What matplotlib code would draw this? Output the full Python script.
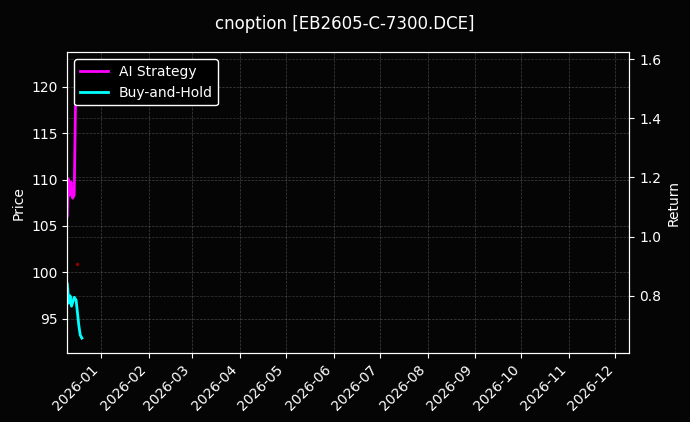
import matplotlib
matplotlib.use("Agg")
import matplotlib.pyplot as plt
import matplotlib.dates as mdates
import numpy as np
import pandas as pd

plt.style.use("dark_background")

## Data
title = "cnoption [EB2605-C-7300.DCE]"

ai_times = pd.to_datetime([
    "2025-12-10 00:00", "2025-12-10 16:00", "2025-12-11 15:00", "2025-12-12 10:00",
    "2025-12-13 12:00", "2025-12-14 12:00", "2025-12-15 12:00", "2025-12-16 06:00",
    "2025-12-17 12:00", "2025-12-19 00:00",
])
ai_return = [1.07, 1.195, 1.14, 1.185, 1.13, 1.14, 1.50, 1.58, 1.55, 1.57]

bh_times = pd.to_datetime([
    "2025-12-10 00:00", "2025-12-10 10:00", "2025-12-11 00:00", "2025-12-11 20:00",
    "2025-12-12 18:00", "2025-12-14 12:00", "2025-12-15 18:00", "2025-12-17 12:00",
    "2025-12-18 10:00", "2025-12-19 12:00",
])
bh_return = [0.84, 0.815, 0.775, 0.80, 0.765, 0.795, 0.785, 0.70, 0.667, 0.657]

price_times = pd.to_datetime(["2025-12-16 06:00"])
price_values = [100.9]

x_start = pd.Timestamp("2025-12-10")
x_end = pd.Timestamp("2026-12-10")

fig = plt.figure(figsize=(6.9, 4.22), dpi=100, facecolor="#050505")
ax1 = fig.add_axes([0.0975, 0.164, 0.8145, 0.7116])
ax1.set_facecolor("#050505")
ax2 = ax1.twinx()

ax1.plot(price_times, price_values, color="#8b0000", marker="o", markersize=1.5, linewidth=1)
ax1.set_ylim(91.34, 123.69)
ax1.set_ylabel("Price", fontsize=10)
ax1.grid(True, linestyle="--", linewidth=0.5, color="gray", alpha=0.5)

ax2.plot(ai_times, ai_return, color="#ff00ff", linewidth=2, label="AI Strategy")
ax2.plot(bh_times, bh_return, color="#00ffff", linewidth=2, label="Buy-and-Hold")
ax2.set_ylim(0.6074, 1.622)
ax2.set_ylabel("Return", fontsize=10)
ax2.grid(True, linestyle="--", linewidth=0.5, color="gray", alpha=0.4)

ax1.set_xlim(x_start, x_end)
ax1.xaxis.set_major_locator(mdates.MonthLocator())
ax1.xaxis.set_major_formatter(mdates.DateFormatter("%Y-%m"))
plt.setp(ax1.get_xticklabels(), rotation=45, ha="right")

leg = ax2.legend(loc="upper left", fontsize=10, facecolor="black", edgecolor="white", framealpha=1)
fig.suptitle(title, fontsize=12, y=0.965)

fig.savefig("out.png", dpi=100, facecolor=fig.get_facecolor())
